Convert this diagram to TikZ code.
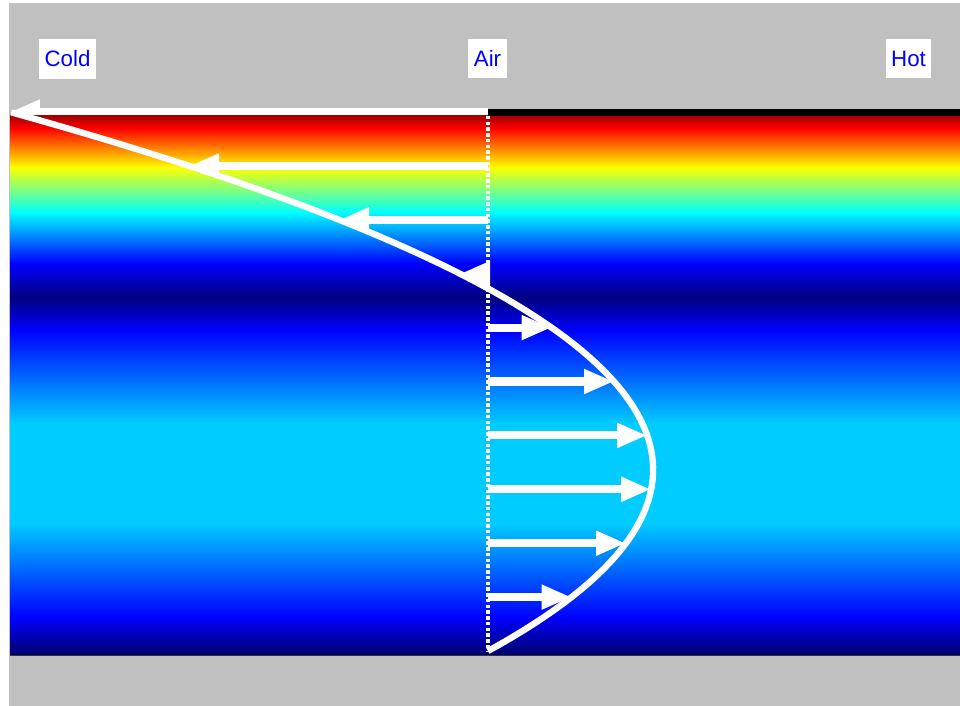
\documentclass[tikz,border=0pt]{standalone}
\usepackage{fontspec}
\setmainfont{Liberation Sans}
\usetikzlibrary{arrows.meta, positioning}

\definecolor{panelgray}{RGB}{192,192,192}
\definecolor{jetDarkRed}{rgb}{0.65,0,0}
\definecolor{jetRed}{rgb}{1,0,0}
\definecolor{jetYellow}{rgb}{1,1,0}
\definecolor{jetCyan}{rgb}{0,1,1}
\definecolor{jetBlue}{rgb}{0,0,1}
\definecolor{jetNavy}{rgb}{0,0,0.5}
\definecolor{jetSky}{rgb}{0,0.8,1}
\definecolor{jetDeep}{rgb}{0,0,0.42}

\tikzset{
  tag/.style={fill=white, text=blue, font=\fontsize{12.7}{15}\selectfont,
    minimum height=0.8cm, inner xsep=0.11cm, inner ysep=0pt},
  flowarrow/.style={white, line width=4.6pt, -{Triangle[length=0.6cm, width=0.46cm]}},
  profile/.style={white, line width=3.6pt},
  wall/.style={black, line width=0.14cm},
  axisdots/.style={white, line width=0.09cm, dash pattern=on 0.07cm off 0.045cm}
}

\begin{document}
\begin{tikzpicture}[x=0.02cm, y=-0.02cm]
    \useasboundingbox (0,0) rectangle (960,706);
    \fill[white] (0,0) rectangle (960,706);
    \fill[panelgray] (9,3) rectangle (960,706);

    % top arrow sits under the colour band
    \coordinate (origin) at (488,651);
    \coordinate (topstart) at (488,112);
    \coordinate (topend) at (10,112);
    \draw[flowarrow] (topstart) -- (topend);

    % temperature band
    \foreach \ya/\ca/\yb/\cb in {116/jetDarkRed/128/jetRed, 128/jetRed/167/jetYellow,
        167/jetYellow/212/jetCyan, 212/jetCyan/263/jetBlue, 263/jetBlue/297/jetNavy,
        297/jetNavy/330/jetBlue, 330/jetBlue/423/jetSky, 423/jetSky/523/jetSky,
        523/jetSky/617/jetBlue, 617/jetBlue/655/jetDeep}
      \shade[top color=\ca, bottom color=\cb] (10,\ya) rectangle (960,\yb+0.5);
    \draw[black!80, line width=0.5pt] (10,655) -- (960,655);

    \draw[wall] (488,112.5) -- (960,112.5);
    \draw[axisdots] (488,116) -- (origin);

    % velocity profile
    \draw[profile] plot[domain=0:1, samples=80] ({488-478*\x+1460*\x*(1-\x)}, {651-539*\x});

    \foreach \k in {1,...,9} {
      \pgfmathsetmacro\lev{\k/10}
      \pgfmathsetmacro\uvel{-478*\lev+1460*\lev*(1-\lev)}
      \pgfmathsetmacro\ypos{651-539*\lev}
      \coordinate (s\k) at (488,\ypos);
      \coordinate (t\k) at (488+\uvel,\ypos);
      \draw[flowarrow] (s\k) -- (t\k);
    }

    \node[tag] (cold) at (67.5,59) {Cold};
    \node[tag] (air) at (487.5,58.5) {Air};
    \node[tag] (hot) at (908.5,58.5) {Hot};
\end{tikzpicture}
\end{document}
